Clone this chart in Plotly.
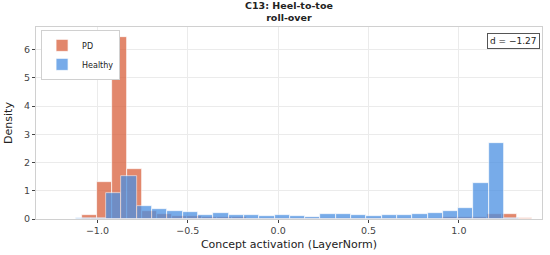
import numpy as np
import plotly.graph_objects as go

# Histogram bins (density per bin, 30 bins each).
PD_START = -1.086
PD_WIDTH = 0.083
PD_DENSITY = [0.13, 1.31, 6.45, 1.76, 0.28, 0.18, 0.12, 0.10, 0.08, 0.07,
              0.06, 0.05, 0.05, 0.04, 0.04, 0.03, 0.03, 0.04, 0.04, 0.03,
              0.04, 0.04, 0.05, 0.05, 0.06, 0.07, 0.08, 0.19, 0.18, 0.02]

HEALTHY_START = -1.206
HEALTHY_WIDTH = 0.0847
HEALTHY_DENSITY = [0.01, 0.02, 0.03, 0.93, 1.53, 0.46, 0.35, 0.27, 0.25, 0.15,
                   0.21, 0.15, 0.13, 0.09, 0.15, 0.10, 0.07, 0.17, 0.17, 0.13,
                   0.10, 0.15, 0.15, 0.19, 0.20, 0.29, 0.39, 1.27, 2.68, 0.02]

X_TICKS = [-1.0, -0.5, 0.0, 0.5, 1.0]
Y_TICKS = [0, 1, 2, 3, 4, 5, 6]
EFFECT_SIZE = -1.27
TITLE = "C13: Heel-to-toe<br>roll-over"

PD_COLOR = "#D95F3B"
HEALTHY_COLOR = "#4A90E2"
INK = "#222222"
MUTED = "#444444"
GRID = "#EBEBEB"
FRAME = "#D0D0D0"
FONT = "DejaVu Sans, sans-serif"


def centers(start, width, n):
    return start + width * (np.arange(n) + 0.5)


fig = go.Figure()
fig.add_trace(go.Bar(
    x=centers(PD_START, PD_WIDTH, len(PD_DENSITY)),
    y=PD_DENSITY,
    width=PD_WIDTH,
    name="PD",
    marker={"color": PD_COLOR, "line": {"color": "white", "width": 0.7}},
    opacity=0.75,
))
fig.add_trace(go.Bar(
    x=centers(HEALTHY_START, HEALTHY_WIDTH, len(HEALTHY_DENSITY)),
    y=HEALTHY_DENSITY,
    width=HEALTHY_WIDTH,
    name="Healthy",
    marker={"color": HEALTHY_COLOR, "line": {"color": "white", "width": 0.7}},
    opacity=0.75,
))

axis_common = {
    "showgrid": True,
    "gridcolor": GRID,
    "gridwidth": 0.8,
    "zeroline": False,
    "showline": True,
    "linecolor": FRAME,
    "linewidth": 1,
    "mirror": True,
    "ticks": "outside",
    "ticklen": 3,
    "tickcolor": MUTED,
    "tickfont": {"size": 9.5, "color": MUTED},
}

fig.update_layout(
    width=550,
    height=255,
    barmode="overlay",
    bargap=0,
    paper_bgcolor="white",
    plot_bgcolor="white",
    font={"family": FONT, "color": INK},
    margin={"l": 31, "r": 7, "t": 27, "b": 35},
    xaxis={
        **axis_common,
        "range": [-1.34, 1.46],
        "tickvals": X_TICKS,
        "tickformat": ".1f",
        "title": {"text": "Concept activation (LayerNorm)", "font": {"size": 11}, "standoff": 4},
    },
    yaxis={
        **axis_common,
        "range": [0, 6.8],
        "tickvals": Y_TICKS,
        "title": {"text": "Density", "font": {"size": 11}, "standoff": 9},
    },
    legend={
        "x": 0.01,
        "y": 0.985,
        "xanchor": "left",
        "yanchor": "top",
        "bgcolor": "white",
        "bordercolor": FRAME,
        "borderwidth": 1,
        "font": {"size": 8, "color": INK},
        "itemwidth": 30,
        "tracegroupgap": 0,
    },
    annotations=[
        {
            "text": f"<b>{TITLE}</b>",
            "xref": "paper",
            "yref": "paper",
            "x": 0.5,
            "y": 1,
            "xanchor": "center",
            "yanchor": "bottom",
            "yshift": 2,
            "showarrow": False,
            "font": {"size": 9.5, "color": INK},
        },
        {
            "text": f"d = {EFFECT_SIZE:.2f}".replace("-", "\u2212"),
            "xref": "paper",
            "yref": "paper",
            "x": 0.996,
            "y": 0.97,
            "xanchor": "right",
            "yanchor": "top",
            "showarrow": False,
            "font": {"size": 9, "color": INK},
            "bgcolor": "white",
            "bordercolor": "#555555",
            "borderwidth": 1,
            "borderpad": 2,
        },
    ],
)

# Page margins would push the 550x255 figure past the window edges.
fig.write_html(
    "out.html",
    config={"displayModeBar": False},
    post_script="document.body.style.margin='0';document.body.style.overflow='hidden';",
)
